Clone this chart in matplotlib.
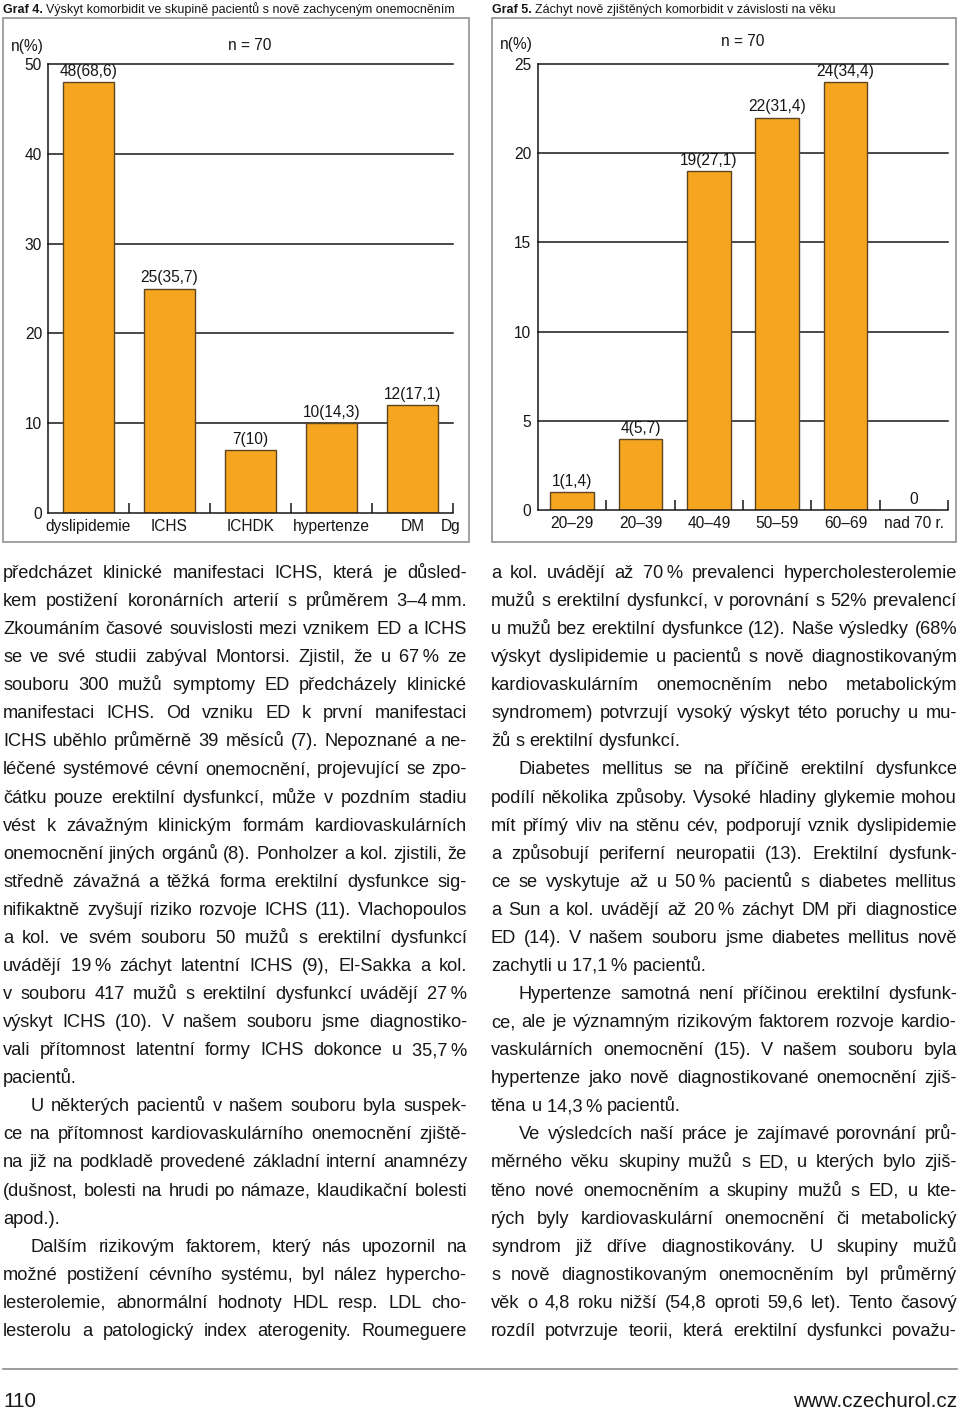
import matplotlib
matplotlib.use('Agg')
import matplotlib.pyplot as plt
import numpy as np
from matplotlib.patches import Rectangle
from matplotlib.ticker import FixedLocator

W, H = 960, 1409
SANS = ['Liberation Sans', 'DejaVu Sans']
NARROW = ['Liberation Sans Narrow', 'Liberation Sans', 'DejaVu Sans']
plt.rcParams['font.family'] = SANS
INK = '#161616'
ORANGE = '#F6A51F'
EDGE = '#5e4522'
FRAME = '#9a9a9a'

# Graf 4 - komorbidity
kat4 = ['dyslipidemie', 'ICHS', 'ICHDK', 'hypertenze', 'DM']
n4 = [48, 25, 7, 10, 12]
pct4 = ['68,6', '35,7', '10', '14,3', '17,1']

# Graf 5 - podle veku
kat5 = ['20–29', '20–39', '40–49', '50–59', '60–69', 'nad 70 r.']
n5 = [1, 4, 19, 22, 24, 0]
pct5 = ['1,4', '5,7', '27,1', '31,4', '34,4', None]

# text clanku: (radek, typ)  j = do bloku, e = konec odstavce, i = odsazeny
levy = [
    ("předcházet klinické manifestaci ICHS, která je důsled-", 'j'),
    ("kem postižení koronárních arterií s průměrem 3–4\u2009mm.", 'j'),
    ("Zkoumáním časové souvislosti mezi vznikem ED a ICHS", 'j'),
    ("se ve své studii zabýval Montorsi. Zjistil, že u 67\u2009% ze", 'j'),
    ("souboru 300 mužů symptomy ED předcházely klinické", 'j'),
    ("manifestaci ICHS. Od vzniku ED k první manifestaci", 'j'),
    ("ICHS uběhlo průměrně 39 měsíců (7). Nepoznané a ne-", 'j'),
    ("léčené systémové cévní onemocnění, projevující se zpo-", 'j'),
    ("čátku pouze erektilní dysfunkcí, může v pozdním stadiu", 'j'),
    ("vést k závažným klinickým formám kardiovaskulárních", 'j'),
    ("onemocnění jiných orgánů (8). Ponholzer a kol. zjistili, že", 'j'),
    ("středně závažná a těžká forma erektilní dysfunkce sig-", 'j'),
    ("nifikaktně zvyšují riziko rozvoje ICHS (11). Vlachopoulos", 'j'),
    ("a kol. ve svém souboru 50 mužů s erektilní dysfunkcí", 'j'),
    ("uvádějí 19\u2009% záchyt latentní ICHS (9), El-Sakka a kol.", 'j'),
    ("v souboru 417 mužů s erektilní dysfunkcí uvádějí 27\u2009%", 'j'),
    ("výskyt ICHS (10). V našem souboru jsme diagnostiko-", 'j'),
    ("vali přítomnost latentní formy ICHS dokonce u 35,7\u2009%", 'j'),
    ("pacientů.", 'e'),
    ("U některých pacientů v našem souboru byla suspek-", 'i'),
    ("ce na přítomnost kardiovaskulárního onemocnění zjiště-", 'j'),
    ("na již na podkladě provedené základní interní anamnézy", 'j'),
    ("(dušnost, bolesti na hrudi po námaze, klaudikační bolesti", 'j'),
    ("apod.).", 'e'),
    ("Dalším rizikovým faktorem, který nás upozornil na", 'i'),
    ("možné postižení cévního systému, byl nález hypercho-", 'j'),
    ("lesterolemie, abnormální hodnoty HDL resp. LDL cho-", 'j'),
    ("lesterolu a patologický index aterogenity. Roumeguere", 'j'),
]
pravy = [
    ("a kol. uvádějí až 70\u2009% prevalenci hypercholesterolemie", 'j'),
    ("mužů s erektilní dysfunkcí, v porovnání s 52% prevalencí", 'j'),
    ("u mužů bez erektilní dysfunkce (12). Naše výsledky (68%", 'j'),
    ("výskyt dyslipidemie u pacientů s nově diagnostikovaným", 'j'),
    ("kardiovaskulárním onemocněním nebo metabolickým", 'j'),
    ("syndromem) potvrzují vysoký výskyt této poruchy u mu-", 'j'),
    ("žů s erektilní dysfunkcí.", 'e'),
    ("Diabetes mellitus se na příčině erektilní dysfunkce", 'i'),
    ("podílí několika způsoby. Vysoké hladiny glykemie mohou", 'j'),
    ("mít přímý vliv na stěnu cév, podporují vznik dyslipidemie", 'j'),
    ("a způsobují periferní neuropatii (13). Erektilní dysfunk-", 'j'),
    ("ce se vyskytuje až u 50\u2009% pacientů s diabetes mellitus", 'j'),
    ("a Sun a kol. uvádějí až 20\u2009% záchyt DM při diagnostice", 'j'),
    ("ED (14). V našem souboru jsme diabetes mellitus nově", 'j'),
    ("zachytli u 17,1\u2009% pacientů.", 'e'),
    ("Hypertenze samotná není příčinou erektilní dysfunk-", 'i'),
    ("ce, ale je významným rizikovým faktorem rozvoje kardio-", 'j'),
    ("vaskulárních onemocnění (15). V našem souboru byla", 'j'),
    ("hypertenze jako nově diagnostikované onemocnění zjiš-", 'j'),
    ("těna u 14,3\u2009% pacientů.", 'e'),
    ("Ve výsledcích naší práce je zajímavé porovnání prů-", 'i'),
    ("měrného věku skupiny mužů s ED, u kterých bylo zjiš-", 'j'),
    ("těno nové onemocněním a skupiny mužů s ED, u kte-", 'j'),
    ("rých byly kardiovaskulární onemocnění či metabolický", 'j'),
    ("syndrom již dříve diagnostikovány. U skupiny mužů", 'j'),
    ("s nově diagnostikovaným onemocněním byl průměrný", 'j'),
    ("věk o 4,8 roku nižší (54,8 oproti 59,6 let). Tento časový", 'j'),
    ("rozdíl potvrzuje teorii, která erektilní dysfunkci považu-", 'j'),
]

fig = plt.figure(figsize=(W / 100, H / 100), dpi=100)
fig.patch.set_facecolor('white')
rend = fig.canvas.get_renderer()


def fx(x):
    return x / W


def fy(y):
    return 1 - y / H


def sirka(s, size, family=SANS, weight='normal'):
    t = fig.text(0, 0, s, fontsize=size, family=family, weight=weight)
    w = t.get_window_extent(rend).width
    t.remove()
    return w


def graf(box, kat, n, pct, ymax, krok, ypad):
    left, top, right, zero = box
    ax = fig.add_axes([fx(left), fy(zero), (right - left) / W, (zero - top) / H])
    x = np.arange(len(kat))
    ax.set_xlim(-0.5, len(kat) - 0.5)
    ax.set_ylim(0, ymax)
    ax.patch.set_alpha(0)
    for v in range(krok, ymax + 1, krok):
        ax.axhline(v, color=INK, lw=1.1, zorder=1, clip_on=False)
    ax.bar(x, n, width=0.64, color=ORANGE, edgecolor=EDGE, lw=1.0, zorder=2)
    for xi, ni, p in zip(x, n, pct):
        lab = f'{ni}({p})' if p else str(ni)
        ax.annotate(lab, (xi, ni), xytext=(0, 2.2), textcoords='offset points',
                    ha='center', va='bottom', fontsize=11.2, color=INK)
    ax.spines['top'].set_visible(False)
    ax.spines['right'].set_visible(False)
    for s in ['left', 'bottom']:
        ax.spines[s].set_linewidth(1.1)
        ax.spines[s].set_color(INK)
    ax.set_yticks(range(0, ymax + 1, krok))
    ax.tick_params(axis='y', length=0, pad=ypad, labelsize=11.2, labelcolor=INK)
    ax.set_xticks(x, kat)
    ax.tick_params(axis='x', which='major', length=0, pad=4, labelsize=11.2, labelcolor=INK)
    ax.xaxis.set_minor_locator(FixedLocator(x + 0.5))
    ax.tick_params(axis='x', which='minor', direction='in', length=7, width=1.1, color=INK)
    return ax


# ramecky grafu
for x0, x1 in [(3, 469), (492, 956)]:
    fig.add_artist(Rectangle((fx(x0), fy(542)), (x1 - x0) / W, (542 - 18) / H,
                             transform=fig.transFigure, fill=False,
                             edgecolor=FRAME, lw=1.3))

graf((48, 64, 453, 513), kat4, n4, pct4, 50, 10, 4.3)
graf((538, 64, 948, 510), kat5, n5, pct5, 25, 5, 5.0)

fig.text(fx(27), fy(46), 'n(%)', ha='center', va='center', fontsize=11.2, color=INK)
fig.text(fx(250), fy(46), 'n = 70', ha='center', va='center', fontsize=11.2, color=INK)
fig.text(fx(451), fy(526), 'Dg', ha='center', va='center', fontsize=11.2, color=INK)
fig.text(fx(516), fy(44), 'n(%)', ha='center', va='center', fontsize=11.2, color=INK)
fig.text(fx(743), fy(41), 'n = 70', ha='center', va='center', fontsize=11.2, color=INK)

# nadpisy grafu
for x0, x1, cis, zbytek in [(3, 456, 'Graf 4.', 'Výskyt komorbidit ve skupině pacientů s nově zachyceným onemocněním'),
                            (492, 835, 'Graf 5.', 'Záchyt nově zjištěných komorbidit v závislosti na věku')]:
    wb = sirka(cis, 10, NARROW, 'bold')
    wr = sirka(zbytek, 10, NARROW)
    gap = 0.27 * 10 * 100 / 72
    size = 10 * (x1 - x0) / (wb + wr + gap)
    k = size / 10
    fig.text(fx(x0), fy(13), cis, fontsize=size, family=NARROW, weight='bold',
             ha='left', va='baseline', color=INK)
    fig.text(fx(x0 + (wb + gap) * k), fy(13), zbytek, fontsize=size, family=NARROW,
             ha='left', va='baseline', color=INK)

# sazba textu do bloku
sloupce = [(levy, 3, 467), (pravy, 491, 957)]
ODSAZENI = 28
mezera10 = sirka('a a', 10) - 2 * sirka('a', 10)
fit = 99
for radky, x0, x1 in sloupce:
    for txt, typ in radky:
        if typ == 'e':
            continue
        slova = txt.split(' ')
        nat = sum(sirka(s, 10) for s in slova) + (len(slova) - 1) * mezera10
        dostupne = x1 - x0 - (ODSAZENI if typ == 'i' else 0)
        fit = min(fit, 10 * dostupne / nat)
VEL = min(fit, 13.6)
mezera = mezera10 * VEL / 10

Y0, KROK = 578, 28.07
for radky, x0, x1 in sloupce:
    for i, (txt, typ) in enumerate(radky):
        y = Y0 + i * KROK
        slova = txt.split(' ')
        sir = [sirka(s, VEL) for s in slova]
        start = x0 + (ODSAZENI if typ == 'i' else 0)
        if typ != 'e' and len(slova) > 1:
            gap = (x1 - start - sum(sir)) / (len(slova) - 1)
        else:
            gap = mezera
        x = start
        for s, w in zip(slova, sir):
            fig.text(fx(x), fy(y), s, fontsize=VEL, ha='left', va='baseline', color=INK)
            x += w + gap

# paticka
fig.add_artist(plt.Line2D([fx(3), fx(957)], [fy(1369), fy(1369)],
                          transform=fig.transFigure, color='#8a8a8a', lw=1.2))
wf = sirka('www.czechurol.cz', 10, NARROW)
fsize = 10 * 164 / wf
fig.text(fx(3), fy(1407), '110', fontsize=fsize, family=NARROW, ha='left', va='baseline', color=INK)
fig.text(fx(957), fy(1407), 'www.czechurol.cz', fontsize=fsize, family=NARROW,
         ha='right', va='baseline', color=INK)

fig.savefig('out.png', dpi=100)
